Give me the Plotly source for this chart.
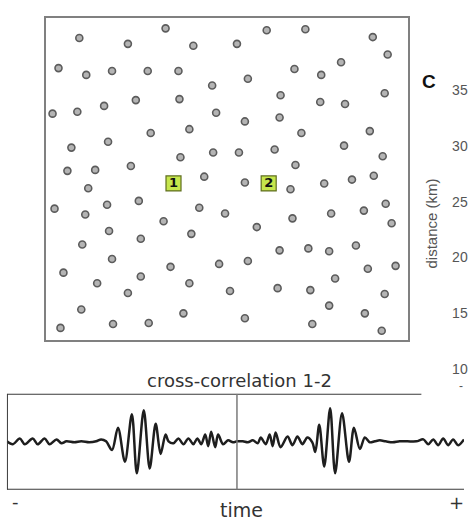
import plotly.graph_objects as go

# ---------------- data ----------------
# station positions in the map (arbitrary map units, x to the right, y downward)
station_x = [34, 83, 121, 149, 193, 223, 262, 330, 345, 13, 41, 67, 103, 134, 168, 204, 251, 278, 298, 342,
             237, 7, 32, 59, 91, 135, 172, 201, 236, 277, 302, 106, 145, 258, 327, 26, 63, 301, 340, 136,
             169, 195, 231, 252, 22, 50, 86, 160, 201, 247, 281, 309, 331, 43, 9, 40, 62, 94, 155, 181,
             119, 147, 64, 96, 37, 213, 249, 288, 321, 343, 349, 236, 265, 286, 313, 67, 18, 126, 175, 204,
             325, 353, 52, 96, 83, 145, 186, 234, 267, 292, 342, 36, 139, 286, 322, 15, 68, 104, 201, 269, 339]
station_y = [21, 27, 11, 29, 27, 13, 12, 20, 38, 52, 59, 55, 55, 55, 70, 63, 53, 59, 46, 78,
             80, 99, 97, 91, 85, 84, 98, 107, 103, 87, 89, 119, 115, 119, 117, 134, 128, 132, 143, 144,
             139, 139, 136, 152, 158, 157, 153, 164, 170, 177, 171, 167, 163, 176, 197, 203, 193, 189, 196, 202,
             210, 223, 220, 228, 234, 216, 207, 202, 199, 192, 212, 240, 238, 241, 235, 249, 263, 257, 254, 251,
             259, 256, 274, 267, 284, 274, 282, 279, 281, 269, 285, 301, 305, 297, 305, 320, 316, 315, 310, 316, 323]

pair_labels = ["1", "2"]
pair_x = [129, 225]
pair_y = [171, 171]

# cross-correlation trace, read as extrema (lag, amplitude)
cc_lag = [-232, -226, -219, -214, -206, -201, -194, -189, -182, -177, -172, -164, -157, -149, -142,
          -137, -132, -126, -120, -113, -106, -101, -94, -88, -82, -77, -72, -69, -64, -59, -54, -49,
          -44, -40, -36, -32, -29, -26, -22, -19, -14, -9, -4, 0,
          6, 11, 16, 21, 24, 29, 33, 36, 39, 44, 51, 56, 61, 66, 71, 76,
          79, 83, 88, 94, 99, 106, 113, 118, 124, 129, 134, 139, 144, 150, 157, 164, 172, 181,
          188, 193, 198, 203, 208, 213, 218, 223, 229]
cc_amp = [0, -3, 3, -3, 3, -3, 3, -3, 2, -2, 0, -1, 0, -1, 0,
          2, 0, -9, 14, -21, 28, -33, 32, -28, 18, -13, 7, 0, -2, 3, -3, 3,
          -3, 3, -3, 7, -5, 10, -6, 7, -3, 1, -1, 0,
          0, -1, 1, -2, 4, -3, 7, -5, 9, -6, 5, -4, 5, -3, 4, -1,
          -11, 17, -26, 34, -33, 29, -21, 14, -8, 4, -1, 0, 1, 0, -1, 0, 0, 0,
          2, -3, 2, -4, 3, -4, 2, -4, 2]

distance_ticks = [10, 15, 20, 25, 30, 35]

# ---------------- figure ----------------
W, H = 468, 523
fig = go.Figure()

fig.add_trace(go.Scatter(
    x=station_x, y=station_y, mode="markers",
    marker=dict(symbol="circle", size=7, color="#b4b4b4",
                line=dict(color="#5c5c5c", width=1.6)),
    xaxis="x", yaxis="y", hoverinfo="skip", showlegend=False))

fig.add_trace(go.Scatter(
    x=pair_x, y=pair_y, mode="markers+text", text=["<b>%s</b>" % s for s in pair_labels],
    textposition="middle center",
    textfont=dict(family="DejaVu Sans", size=13, color="#111111"),
    marker=dict(symbol="square", size=15, color="#c6e64c",
                line=dict(color="#5f6e1e", width=1.2)),
    xaxis="x", yaxis="y", hoverinfo="skip", showlegend=False))

fig.add_trace(go.Scatter(
    x=cc_lag, y=cc_amp, mode="lines",
    line=dict(color="#1e1e1e", width=2.5, shape="spline", smoothing=0.9),
    xaxis="x2", yaxis="y2", hoverinfo="skip", showlegend=False))

fig.add_trace(go.Scatter(
    x=[0, 0], y=[distance_ticks[0], distance_ticks[-1]], mode="markers",
    marker=dict(size=1, color="rgba(0,0,0,0)"),
    xaxis="x3", yaxis="y3", hoverinfo="skip", showlegend=False))

shape_line = dict(color="#3a3a3a", width=2)
shapes = [
    dict(type="line", xref="x2", yref="y2", x0=-232, x1=-232, y0=-50, y1=49, line=shape_line),
    dict(type="line", xref="x2", yref="y2", x0=-232, x1=186, y0=49, y1=49, line=shape_line),
    dict(type="line", xref="x2", yref="y2", x0=-232, x1=229, y0=-50, y1=-50, line=shape_line),
    dict(type="line", xref="x2", yref="y2", x0=0, x1=0, y0=-50, y1=49,
         line=dict(color="#7a7a7a", width=1.5)),
]

def px(x):
    return x / W

def py(y):
    return 1 - y / H

annotations = [
    dict(text="<b>C</b>", x=px(433), y=py(76), xref="paper", yref="paper", showarrow=False,
         font=dict(family="Liberation Sans", size=19, color="#111111"), xanchor="center", yanchor="middle"),
    dict(text="distance (km)", x=px(435), y=py(222), xref="paper", yref="paper", showarrow=False,
         textangle=-90, font=dict(family="Liberation Sans", size=15, color="#555555"),
         xanchor="center", yanchor="middle"),
    dict(text="cross-correlation 1-2", x=px(242), y=py(384), xref="paper", yref="paper", showarrow=False,
         font=dict(family="DejaVu Sans", size=18, color="#333333"), xanchor="center", yanchor="middle"),
    dict(text="time", x=px(244), y=py(518), xref="paper", yref="paper", showarrow=False,
         font=dict(family="DejaVu Sans", size=19, color="#333333"), xanchor="center", yanchor="middle"),
    dict(text="-", x=px(16), y=py(509), xref="paper", yref="paper", showarrow=False,
         font=dict(family="DejaVu Sans", size=18, color="#333333"), xanchor="center", yanchor="middle"),
    dict(text="+", x=px(460), y=py(510), xref="paper", yref="paper", showarrow=False,
         font=dict(family="DejaVu Sans", size=18, color="#333333"), xanchor="center", yanchor="middle"),
    dict(text="-", x=px(465), y=py(390), xref="paper", yref="paper", showarrow=False,
         font=dict(family="Liberation Sans", size=12, color="#555555"), xanchor="center", yanchor="middle"),
]

hidden = dict(showgrid=False, zeroline=False, showticklabels=False, ticks="", fixedrange=True)

fig.update_layout(
    width=W, height=H,
    margin=dict(l=0, r=0, t=0, b=0),
    paper_bgcolor="white", plot_bgcolor="white",
    showlegend=False,
    xaxis=dict(domain=[px(46), px(412)], range=[0, 366], anchor="y",
               showline=True, mirror=True, linecolor="#808080", linewidth=2, **hidden),
    yaxis=dict(domain=[py(342), py(10)], range=[332, 0], anchor="x",
               showline=True, mirror=True, linecolor="#808080", linewidth=2, **hidden),
    xaxis2=dict(domain=[px(7), 1.0], range=[-232, 229], anchor="y2", showline=False, **hidden),
    yaxis2=dict(domain=[py(497), py(398)], range=[-50, 49], anchor="x2", showline=False, **hidden),
    xaxis3=dict(domain=[px(420), px(455)], range=[0, 1], anchor="y3", showline=False, visible=False),
    yaxis3=dict(domain=[py(372), py(85)], range=[10, 35], anchor="x3", side="right",
                tickvals=distance_ticks, ticktext=[str(v) for v in distance_ticks],
                showline=False, showgrid=False, zeroline=False, ticks="",
                tickfont=dict(family="Liberation Sans", size=14, color="#555555"), fixedrange=True),
    shapes=shapes,
    annotations=annotations,
)

fig.write_html("out.html", config={"displayModeBar": False, "staticPlot": True},
               post_script="document.body.style.margin='0px';document.body.style.overflow='hidden';")
